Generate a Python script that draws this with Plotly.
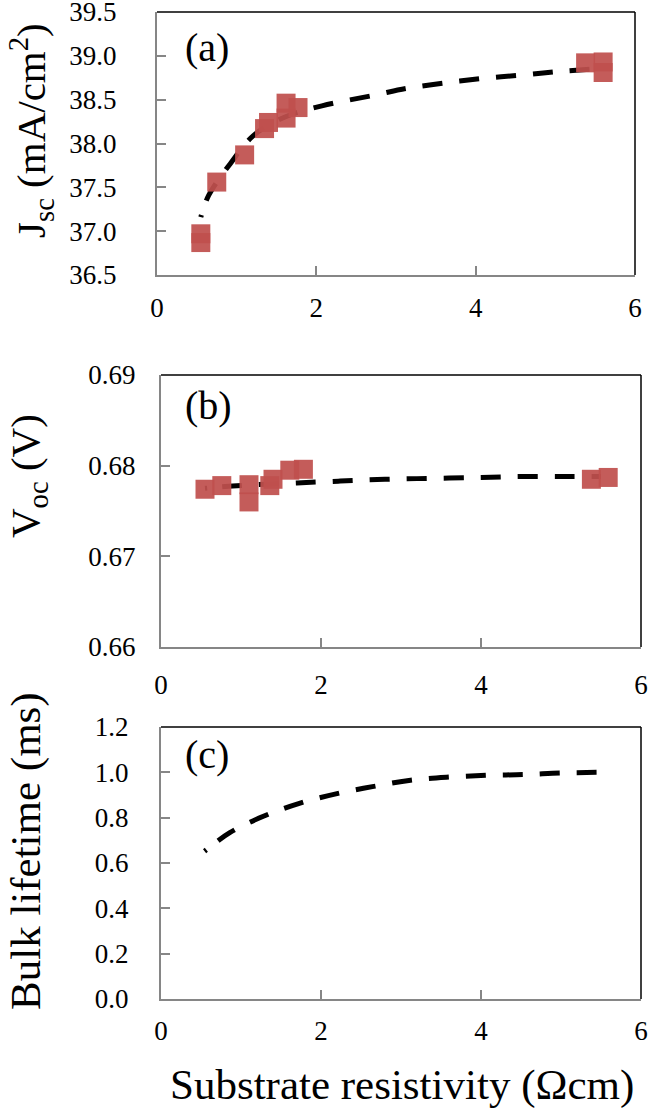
import plotly.graph_objects as go

# (a) short-circuit current density vs substrate resistivity
jsc_x = [0.55, 0.55, 0.75, 1.10, 1.35, 1.40, 1.62, 1.62, 1.77, 5.38, 5.60, 5.60]
jsc_y = [36.97, 36.87, 37.56, 37.87, 38.17, 38.24, 38.46, 38.29, 38.41, 38.92, 38.93, 38.81]
jsc_fit_x = [0.55, 0.65, 0.92, 1.21, 1.60, 2.07, 2.72, 3.14, 3.61, 4.07, 4.57, 5.03, 5.50]
jsc_fit_y = [37.16, 37.41, 37.77, 38.09, 38.30, 38.43, 38.55, 38.63, 38.69, 38.74, 38.78, 38.82, 38.85]

# (b) open-circuit voltage
voc_x = [0.55, 0.76, 1.10, 1.10, 1.36, 1.40, 1.61, 1.78, 5.38, 5.59]
voc_y = [0.6774, 0.6778, 0.6779, 0.6760, 0.6778, 0.6785, 0.6795, 0.6796, 0.6785, 0.6787]
voc_fit_x = [0.55, 0.80, 1.20, 1.70, 2.24, 2.80, 3.40, 4.00, 4.50, 5.03, 5.50]
voc_fit_y = [0.6775, 0.6777, 0.6779, 0.6781, 0.6783, 0.6785, 0.6786, 0.6787, 0.6788, 0.6788, 0.6788]

# (c) bulk lifetime
tau_x = [0.545, 0.86, 1.28, 1.72, 2.20, 2.66, 3.12, 3.60, 4.08, 4.53, 5.01, 5.49]
tau_y = [0.652, 0.734, 0.806, 0.862, 0.906, 0.938, 0.965, 0.979, 0.987, 0.990, 0.997, 1.000]

x_ticks = [0, 2, 4, 6]

W, H = 648, 1113
FONT = "Times New Roman"
RED = "rgba(192,80,77,0.93)"
GRAY = "#868686"
# excel-like dashes starting with a dot
DASH = "2px,15px," + ",".join(["20px,17px"] * 16)


def fx(p):
    return p / W


def fy(p):
    return 1 - p / H


fig = go.Figure()

fig.add_trace(go.Scatter(x=jsc_fit_x, y=jsc_fit_y, mode="lines", xaxis="x", yaxis="y",
                         line=dict(color="black", width=5, dash=DASH, shape="spline")))
fig.add_trace(go.Scatter(x=jsc_x, y=jsc_y, mode="markers", xaxis="x", yaxis="y",
                         marker=dict(symbol="square", size=19, color=RED)))
fig.add_trace(go.Scatter(x=voc_fit_x, y=voc_fit_y, mode="lines", xaxis="x2", yaxis="y2",
                         line=dict(color="black", width=5, dash=DASH, shape="spline")))
fig.add_trace(go.Scatter(x=voc_x, y=voc_y, mode="markers", xaxis="x2", yaxis="y2",
                         marker=dict(symbol="square", size=19, color=RED)))
fig.add_trace(go.Scatter(x=tau_x, y=tau_y, mode="lines", xaxis="x3", yaxis="y3",
                         line=dict(color="black", width=5, dash=DASH, shape="spline")))

panels = [
    # x px range, y px range, y range, dtick, format, y label standoff, x label standoff
    ((157, 635), (12, 275), [36.5, 39.5], 0.5, ".1f", 33, 8),
    ((161, 641), (375, 647), [0.66, 0.69], 0.01, ".2f", 18, 13),
    ((161, 641), (727, 999), [0, 1.2], 0.2, ".1f", 25, 7),
]

axis_common = dict(showline=True, linecolor=GRAY, linewidth=2, ticks="inside", ticklen=9,
                   tickcolor=GRAY, tickwidth=1.5, showgrid=False, zeroline=False,
                   automargin=False, ticklabeloverflow="allow",
                   tickfont=dict(family=FONT, size=27, color="black"))

for i, (xs, ys, yr, dt, fmt, ystd, xstd) in enumerate(panels):
    n = "" if i == 0 else str(i + 1)
    fig.layout["xaxis" + n] = dict(axis_common, domain=[fx(xs[0]), fx(xs[1])], range=[0, 6],
                                   tickvals=x_ticks, anchor="y" + n, ticklabelstandoff=xstd)
    fig.layout["yaxis" + n] = dict(axis_common, domain=[fy(ys[1]), fy(ys[0])], range=yr,
                                   dtick=dt, tick0=yr[0], tickformat=fmt, anchor="x" + n,
                                   ticklabelstandoff=ystd)
    # black top and right borders
    fig.add_shape(type="line", xref="x%s domain" % n, yref="y%s domain" % n,
                  x0=0, x1=1, y0=1, y1=1, line=dict(color="black", width=1.5))
    fig.add_shape(type="line", xref="x%s domain" % n, yref="y%s domain" % n,
                  x0=1, x1=1, y0=0, y1=1, line=dict(color="black", width=1.5))

# panel letters
for lab, yc in [("(a)", 48), ("(b)", 405), ("(c)", 755)]:
    fig.add_annotation(text=lab, x=fx(183), y=fy(yc), xref="paper", yref="paper",
                       xanchor="left", yanchor="middle", showarrow=False,
                       font=dict(family=FONT, size=40, color="black"))

# axis titles
ytitles = [("J<sub>sc</sub> (mA/cm<sup>2</sup>)", 131, 41),
           ("V<sub>oc</sub> (V)", 476, 41),
           ("Bulk lifetime (ms)", 851, 43)]
for t, yc, sz in ytitles:
    fig.add_annotation(text=t, x=0, y=fy(yc), xref="paper", yref="paper",
                       textangle=-90, showarrow=False, xanchor="left", yanchor="middle",
                       font=dict(family=FONT, size=sz, color="black"))
fig.add_annotation(text="Substrate resistivity (Ωcm)", x=fx(402), y=fy(1085),
                   xref="paper", yref="paper", showarrow=False,
                   xanchor="center", yanchor="middle",
                   font=dict(family=FONT, size=43, color="black"))

fig.update_layout(width=W, height=H, margin=dict(l=0, r=0, t=0, b=0),
                  font=dict(family=FONT, color="black"),
                  paper_bgcolor="white", plot_bgcolor="white", showlegend=False)

# page has a default 8px body margin; remove it so the figure fills the window
fig.write_html("out.html", config={"displayModeBar": False},
               post_script="document.body.style.margin='0';")
